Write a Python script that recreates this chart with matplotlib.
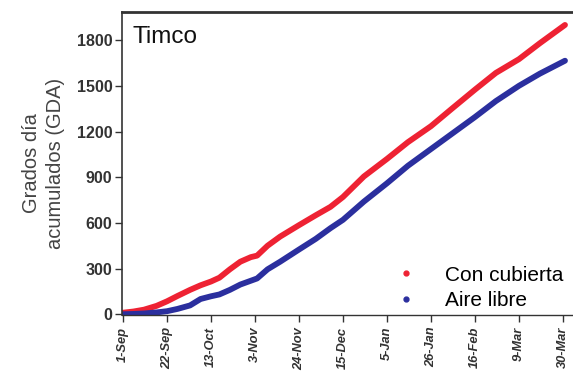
import matplotlib
matplotlib.use("Agg")
import matplotlib.pyplot as plt
from matplotlib.lines import Line2D

# Days after 1 September
days = [0, 5, 10, 16, 21, 26, 32, 37, 42, 46, 51, 56, 61, 64, 69, 75, 84, 92,
        99, 105, 115, 126, 136, 147, 157, 168, 178, 189, 199, 211]

con_cubierta = [10, 18, 30, 55, 85, 120, 160, 190, 215, 240, 295, 345, 375,
                385, 450, 510, 585, 650, 705, 770, 905, 1020, 1130, 1235,
                1350, 1475, 1585, 1675, 1780, 1900]
aire_libre = [0, 2, 5, 12, 20, 35, 58, 100, 118, 130, 160, 195, 220, 235,
              295, 345, 425, 495, 565, 620, 740, 860, 975, 1085, 1185, 1295,
              1400, 1500, 1580, 1665]

tick_days = [0, 21, 42, 63, 84, 105, 126, 147, 168, 189, 210]
tick_labels = ["1-Sep", "22-Sep", "13-Oct", "3-Nov", "24-Nov", "15-Dec",
               "5-Jan", "26-Jan", "16-Feb", "9-Mar", "30-Mar"]
y_ticks = [0, 300, 600, 900, 1200, 1500, 1800]

red = "#ee2233"
blue = "#2b2f9e"
font = "Liberation Sans"

fig = plt.figure(figsize=(5.73, 3.74), dpi=100)
ax = fig.add_axes([122 / 573, (374 - 315) / 374, (574 - 122) / 573, (315 - 12) / 374])

ax.plot(days, con_cubierta, color=red, lw=4.2, solid_capstyle="round")
ax.plot(days, aire_libre, color=blue, lw=4.2, solid_capstyle="round")

ax.set_xlim(-0.5, 215.3)
ax.set_ylim(-5, 1985)

ax.set_xticks(tick_days)
ax.set_xticklabels(tick_labels, rotation=90, fontsize=9.3, fontweight="bold",
                   fontstyle="italic", family=font)
ax.set_yticks(y_ticks)
ax.set_yticklabels([str(v) for v in y_ticks], fontsize=11.5, fontweight="bold",
                   family=font)
ax.tick_params(axis="both", direction="out", length=5, width=1, colors="#333333")
ax.tick_params(axis="y", pad=2)
ax.tick_params(axis="x", pad=3.5)

for side in ["left", "bottom", "top", "right"]:
    ax.spines[side].set_color("#333333")
ax.spines["left"].set_linewidth(1.2)
ax.spines["bottom"].set_linewidth(1.0)
ax.spines["top"].set_linewidth(2.0)
ax.spines["right"].set_visible(False)

ax.set_ylabel("Grados día\nacumulados (GDA)", fontsize=14.5, color="#444444",
              family=font, labelpad=8, linespacing=1.35)

ax.text(0.024, 0.955, "Timco", transform=ax.transAxes, fontsize=17.5,
        va="top", ha="left", family=font, color="#111111")

handles = [Line2D([], [], ls="none", marker="o", ms=3.5, color=red),
           Line2D([], [], ls="none", marker="o", ms=3.5, color=blue)]
ax.legend(handles, ["Con cubierta", "Aire libre"], loc="lower right",
          bbox_to_anchor=(1.018, -0.045), frameon=False,
          prop={"family": font, "size": 15},
          handletextpad=1.1, labelspacing=0.3, handlelength=1.5)

fig.savefig("out.png", dpi=100)
